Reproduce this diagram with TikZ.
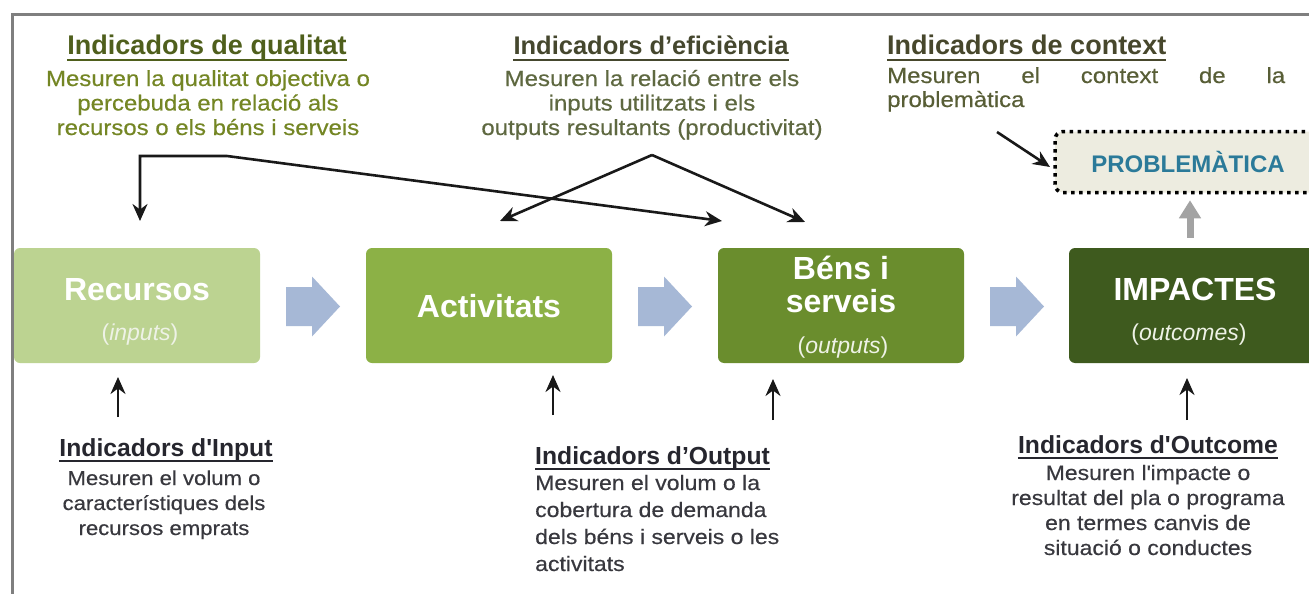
\documentclass[tikz,border=0pt]{standalone}
\usepackage{fontspec}
\setmainfont{Liberation Sans}
\newfontfamily\descfont{Liberation Sans}[FakeStretch=1.1,FakeBold=0.4]
\usetikzlibrary{arrows.meta,calc}
\definecolor{qtitle}{HTML}{4F5F1C}
\definecolor{qdesc}{HTML}{748624}
\definecolor{etitle}{HTML}{45472E}
\definecolor{edesc}{HTML}{5E6840}
\definecolor{ctitle}{HTML}{47472C}
\definecolor{cdesc}{HTML}{585E36}
\definecolor{btitle}{HTML}{26262E}
\definecolor{bdesc}{HTML}{38383E}
\definecolor{cone}{HTML}{BCD391}
\definecolor{ctwo}{HTML}{8CB146}
\definecolor{cthree}{HTML}{6A8D2D}
\definecolor{cfour}{HTML}{3E5A1E}
\definecolor{arrowblue}{HTML}{A6B8D6}
\definecolor{probfill}{HTML}{EDECE0}
\definecolor{probtext}{HTML}{2B7A99}
\definecolor{framegray}{HTML}{7F7F7F}
\definecolor{grayarrow}{HTML}{A3A3A3}
\definecolor{subwhite}{HTML}{EEF2E6}
\begin{document}
\begin{tikzpicture}[x=1pt,y=-1pt,
  stage/.style={rounded corners=6pt, minimum width=246pt, minimum height=115pt, inner sep=0pt},
  stagetxt/.style={text=white, font=\fontsize{32}{32}\selectfont\bfseries, anchor=base, inner sep=0pt},
  stagesub/.style={text=subwhite, font=\fontsize{23}{23}\selectfont, anchor=base, inner sep=0pt},
  ttl/.style={font=\fontsize{27}{27}\selectfont\bfseries, anchor=base, inner sep=0pt},
  bttl/.style={font=\fontsize{24.7}{24.7}\selectfont\bfseries, anchor=base, inner sep=0pt, text=btitle},
  topdesc/.style={font=\descfont\fontsize{21.8}{24.5}\selectfont, anchor=base, inner sep=0pt},
  conn/.style={line width=2.6pt, draw=black!90, -{Stealth[length=17pt,width=15pt]}},
  uline/.style={line width=2.6pt},
  flowarrow/.style={fill=arrowblue}
]
\clip (0,0) rectangle (1309,594);
\fill[white] (0,0) rectangle (1309,594);
% frame
\draw[framegray, line width=3pt] (12,600) -- (12,15) -- (1320,15);

% stage boxes
\node[stage, fill=cone] (rec) at (137,305.5) {};
\node[stage, fill=ctwo] (act) at (489,305.5) {};
\node[stage, fill=cthree] (ben) at (841,305.5) {};
\node[stage, fill=cfour] (imp) at (1192,305.5) {};

\node[stagetxt] (rect) at (137,300) {Recursos};
\node[stagesub] (recs) at (140,340) {(\textit{inputs})};
\node[stagetxt] (actt) at (489,317) {Activitats};
\node[stagetxt] (bent1) at (841,279) {Béns i};
\node[stagetxt] (bent2) at (841,312) {serveis};
\node[stagesub] (bens) at (843,353) {(\textit{outputs})};
\node[stagetxt] (impt) at (1195,300) {IMPACTES};
\node[stagesub] (imps) at (1189,340) {(\textit{outcomes})};

% flow arrows
\foreach \x in {286,638,990}{
  \fill[flowarrow] (\x,287) -- ({\x+26},287) -- ({\x+26},276.5) -- ({\x+54},306.5)
    -- ({\x+26},336.5) -- ({\x+26},326) -- (\x,326) -- cycle;
}

% problematica
\node[rounded corners=8pt, fill=probfill, draw=black, line width=3.5pt,
      dash pattern=on 3.5pt off 4.5pt, minimum width=266pt, minimum height=61pt,
      text=probtext, font=\fontsize{24}{24}\selectfont\bfseries] (prob) at (1188,162) {PROBLEMÀTICA};

% top titles (multi-line nodes: base = last line baseline)
\node[ttl, text=qtitle] (qt) at (207,55) {Indicadors de qualitat};
\draw[uline, qtitle] ([yshift=-5pt]qt.base west) -- ([yshift=-5pt]qt.base east);
\node[topdesc, text=qdesc, align=center] (qd) at (208,135)
  {Mesuren la qualitat objectiva o\\percebuda en relació als\\recursos o els béns i serveis};

\node[ttl, text=etitle, font=\fontsize{25.5}{25.5}\selectfont\bfseries] (et) at (651,55) {Indicadors d’eficiència};
\draw[uline, etitle] ([yshift=-5pt]et.base west) -- ([yshift=-5pt]et.base east);
\node[topdesc, text=edesc, align=center] (ed) at (652,135)
  {Mesuren la relació entre els\\inputs utilitzats i els\\outputs resultants (productivitat)};

\node[ttl, text=ctitle, anchor=base west] (ct) at (887,55) {Indicadors de context};
\draw[uline, ctitle] ([yshift=-5pt]ct.base west) -- ([yshift=-5pt]ct.base east);
\node[topdesc, text=cdesc, align=left, anchor=base west, font=\descfont\fontsize{21.8}{24}\selectfont] (cd) at (887,107)
  {\hbox to 398pt{Mesuren\hfill el\hfill context\hfill de\hfill la}\\problemàtica};

% top connectors
\coordinate (qcorner) at (140,156);
\coordinate (qhor) at (227,156);
\coordinate (rtip) at (140,221);
\coordinate (btipa) at (722,221);
\coordinate (eapex) at (652,155);
\coordinate (atip) at (500,221);
\coordinate (btipb) at (805,222);
\draw[line width=2.6pt, draw=black!90, line join=miter, {Stealth[length=17pt,width=15pt]}-{Stealth[length=17pt,width=15pt]}]
  (rtip) -- (qcorner) -- (qhor) -- (btipa);
\draw[conn] (eapex) -- (atip);
\draw[conn] (eapex) -- (btipb);
\coordinate (cstart) at (997,132);
\coordinate (ctip) at (1050,167);
\draw[conn] (cstart) -- (ctip);
\draw[line width=7pt, grayarrow, -{Triangle[width=21pt,length=18pt]}]
  ([xshift=-2pt,yshift=10pt]imp.north) -- ([xshift=-2pt,yshift=-6pt]imp.north |- prob.south);

% bottom connectors
\coordinate (ia) at (118,417); \coordinate (ib) at (118,377);
\coordinate (oa) at (553,415); \coordinate (ob) at (553,375);
\coordinate (pa) at (773,420); \coordinate (pb) at (773,379);
\coordinate (ua) at (1187,420); \coordinate (ub) at (1187,378);
\draw[conn] (ia) -- (ib);
\draw[conn] (oa) -- (ob);
\draw[conn] (pa) -- (pb);
\draw[conn] (ua) -- (ub);

% bottom titles and texts
\node[bttl] (it) at (166,456) {Indicadors d\textquotesingle Input};
\draw[uline, btitle] ([yshift=-5pt]it.base west) -- ([yshift=-5pt]it.base east);
\node[text=bdesc, font=\descfont\fontsize{20.1}{25}\selectfont, anchor=base, inner sep=0pt, align=center] (id) at (164,535)
  {Mesuren el volum o\\característiques dels\\recursos emprats};

\node[bttl, anchor=base west] (ot) at (535,464) {Indicadors d’Output};
\draw[uline, btitle] ([yshift=-5pt]ot.base west) -- ([yshift=-5pt]ot.base east);
\node[text=bdesc, font=\descfont\fontsize{20.9}{27}\selectfont, anchor=base west, inner sep=0pt, align=left] (od) at (535,571)
  {Mesuren el volum o la\\cobertura de demanda\\dels béns i serveis o les\\activitats};

\node[bttl] (ut) at (1148,453) {Indicadors d\textquotesingle Outcome};
\draw[uline, btitle] ([yshift=-5pt]ut.base west) -- ([yshift=-5pt]ut.base east);
\node[text=bdesc, font=\descfont\fontsize{20.9}{25}\selectfont, anchor=base, inner sep=0pt, align=center] (ud) at (1148,555)
  {Mesuren l\textquotesingle impacte o\\resultat del pla o programa\\en termes canvis de\\situació o conductes};
\end{tikzpicture}
\end{document}
